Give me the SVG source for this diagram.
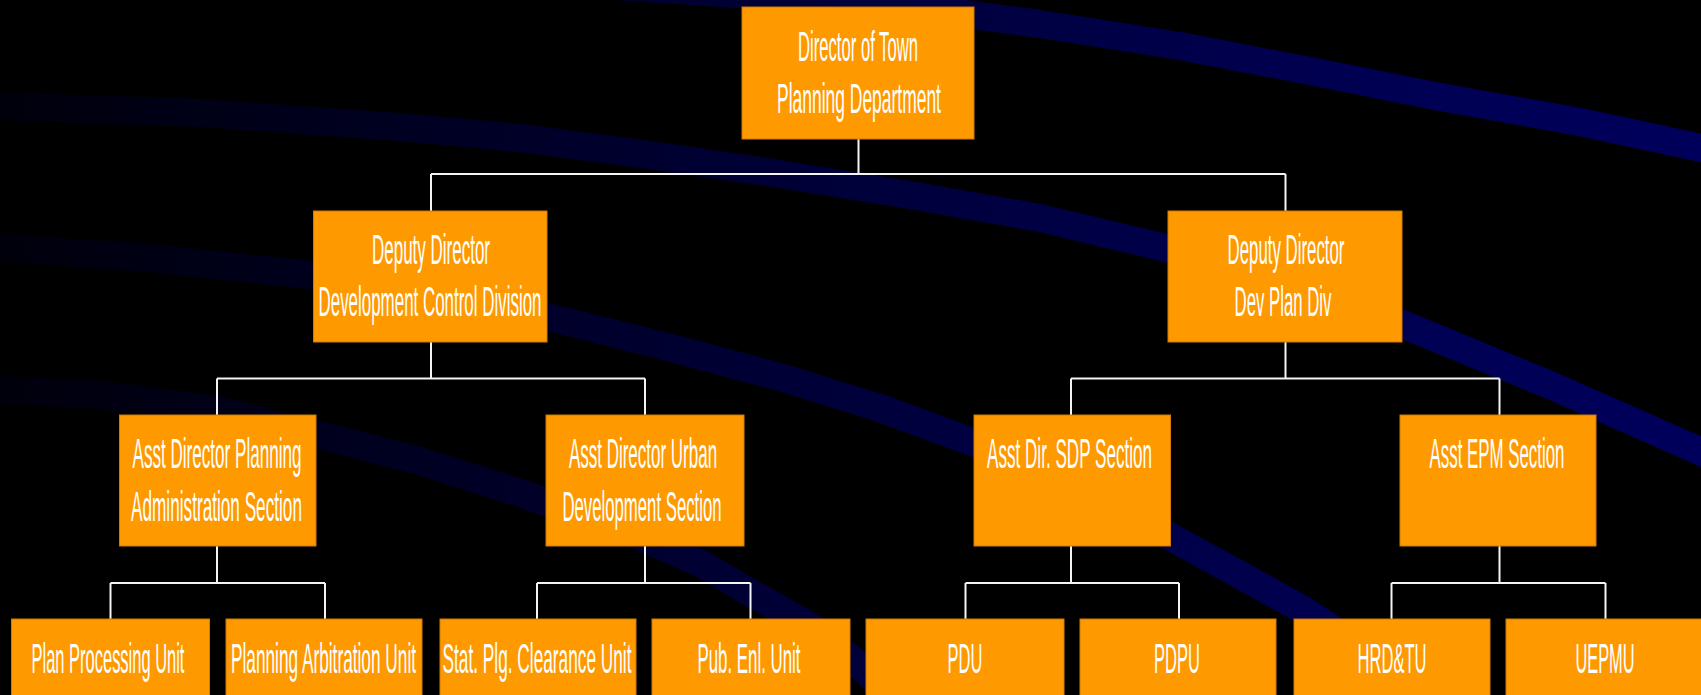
<svg xmlns="http://www.w3.org/2000/svg" width="1701" height="695" viewBox="0 0 1701 695">
<defs>
<linearGradient id="bandGrad" gradientUnits="userSpaceOnUse" x1="0" y1="0" x2="1701" y2="0">
<stop offset="0" stop-color="#00000c"/>
<stop offset="0.3" stop-color="#000028"/>
<stop offset="0.55" stop-color="#00003f"/>
<stop offset="0.8" stop-color="#000052"/>
<stop offset="1" stop-color="#00005c"/>
</linearGradient>
<style>
.band{fill:none;stroke:url(#bandGrad);stroke-width:28;stroke-linejoin:round;stroke-linecap:butt}
.box{fill:#FF9900;stroke:#D07A00;stroke-width:1}
.lbl{fill:#FFFFFF;font-family:"Liberation Sans",Arial,sans-serif;font-size:43px;text-anchor:middle}
.conn{fill:none;stroke:#F4F4F4;stroke-width:2}
</style>
</defs>
<rect x="0" y="0" width="1701" height="695" fill="#000000"/>
<g id="background">
<path class="band" d="M500,-22 L630,-13 L800,-2 L920,8 L1040,24 L1180,46 L1310,71 L1440,97 L1580,122 L1720,152"/>
<path class="band" d="M-10,106 L200,113 L400,127 L520,138 L650,155 L780,174 L910,195 L1040,218 L1200,256 L1300,287 L1402,324 L1550,385 L1720,460"/>
<path class="band" d="M-10,247 L150,258 L310,275 L430,294 L548,317 L660,345 L780,377 L880,408 L975,443 L1080,488 L1180,542 L1300,608 L1420,685 L1460,715"/>
<path class="band" d="M-10,389 L100,395 L217,410 L316,434 L420,461 L520,493 L620,528 L700,563 L753,594 L820,632 L870,675 L910,720"/>
</g>
<g id="connectors">
<path class="conn" d="M858.5,139 V174 M431,174 H1285.5 M431,174 V211 M1285.5,174 V211"/>
<path class="conn" d="M431,342 V378.5 M217,378.5 H645 M217,378.5 V415 M645,378.5 V415"/>
<path class="conn" d="M1285.5,342 V378.5 M1071,378.5 H1499.5 M1071,378.5 V415 M1499.5,378.5 V415"/>
<path class="conn" d="M217,546 V583 M110.5,583 H325 M110.5,583 V619 M325,583 V619"/>
<path class="conn" d="M645,546 V583 M537,583 H750.5 M537,583 V619 M750.5,583 V619"/>
<path class="conn" d="M1071,546 V583 M965.5,583 H1179 M965.5,583 V619 M1179,583 V619"/>
<path class="conn" d="M1499.5,546 V583 M1391.5,583 H1605.5 M1391.5,583 V619 M1605.5,583 V619"/>
</g>
<g id="director">
<rect class="box" x="742" y="7" width="232" height="132"/>
<text class="lbl" transform="translate(858,61) scale(0.392,1)" textLength="306" lengthAdjust="spacingAndGlyphs">Director of Town</text>
<text class="lbl" transform="translate(859,113) scale(0.392,1)" textLength="418" lengthAdjust="spacingAndGlyphs">Planning Department</text>
</g>
<g id="deputy-dcd">
<rect class="box" x="313.5" y="211" width="233.5" height="131"/>
<text class="lbl" transform="translate(431,264) scale(0.392,1)" textLength="301" lengthAdjust="spacingAndGlyphs">Deputy Director</text>
<text class="lbl" transform="translate(430,316) scale(0.392,1)" textLength="569" lengthAdjust="spacingAndGlyphs">Development Control Division</text>
</g>
<g id="deputy-dpd">
<rect class="box" x="1168" y="211" width="234" height="131"/>
<text class="lbl" transform="translate(1286,264) scale(0.392,1)" textLength="298" lengthAdjust="spacingAndGlyphs">Deputy Director</text>
<text class="lbl" transform="translate(1283,316) scale(0.392,1)" textLength="247" lengthAdjust="spacingAndGlyphs">Dev Plan Div</text>
</g>
<g id="asst-planning-admin">
<rect class="box" x="119.5" y="415" width="196.5" height="131"/>
<text class="lbl" transform="translate(217,468) scale(0.392,1)" textLength="431" lengthAdjust="spacingAndGlyphs">Asst Director Planning</text>
<text class="lbl" transform="translate(216.5,521) scale(0.392,1)" textLength="436" lengthAdjust="spacingAndGlyphs">Administration Section</text>
</g>
<g id="asst-urban-dev">
<rect class="box" x="546" y="415" width="198" height="131"/>
<text class="lbl" transform="translate(643,468) scale(0.392,1)" textLength="378" lengthAdjust="spacingAndGlyphs">Asst Director Urban</text>
<text class="lbl" transform="translate(642,521) scale(0.392,1)" textLength="406" lengthAdjust="spacingAndGlyphs">Development Section</text>
</g>
<g id="asst-sdp">
<rect class="box" x="974" y="415" width="196.5" height="131"/>
<text class="lbl" transform="translate(1069.5,468) scale(0.392,1)" textLength="421" lengthAdjust="spacingAndGlyphs">Asst Dir. SDP Section</text>
</g>
<g id="asst-epm">
<rect class="box" x="1400" y="415" width="196" height="131"/>
<text class="lbl" transform="translate(1497,468) scale(0.392,1)" textLength="344" lengthAdjust="spacingAndGlyphs">Asst EPM Section</text>
</g>
<g id="unit-plan-processing">
<rect class="box" x="11.5" y="619" width="198" height="90"/>
<text class="lbl" transform="translate(108,673) scale(0.392,1)" textLength="390" lengthAdjust="spacingAndGlyphs">Plan Processing Unit</text>
</g>
<g id="unit-planning-arbitration">
<rect class="box" x="226" y="619" width="196" height="90"/>
<text class="lbl" transform="translate(323.5,673) scale(0.392,1)" textLength="472" lengthAdjust="spacingAndGlyphs">Planning Arbitration Unit</text>
</g>
<g id="unit-stat-plg-clearance">
<rect class="box" x="440" y="619" width="196" height="90"/>
<text class="lbl" transform="translate(537,673) scale(0.392,1)" textLength="482" lengthAdjust="spacingAndGlyphs">Stat. Plg. Clearance Unit</text>
</g>
<g id="unit-pub-enl">
<rect class="box" x="652" y="619" width="198" height="90"/>
<text class="lbl" transform="translate(749,673) scale(0.392,1)" textLength="263" lengthAdjust="spacingAndGlyphs">Pub. Enl. Unit</text>
</g>
<g id="unit-pdu">
<rect class="box" x="866" y="619" width="198" height="90"/>
<text class="lbl" transform="translate(965,673) scale(0.392,1)" textLength="89" lengthAdjust="spacingAndGlyphs">PDU</text>
</g>
<g id="unit-pdpu">
<rect class="box" x="1080" y="619" width="196" height="90"/>
<text class="lbl" transform="translate(1177,673) scale(0.392,1)" textLength="117" lengthAdjust="spacingAndGlyphs">PDPU</text>
</g>
<g id="unit-hrdtu">
<rect class="box" x="1294" y="619" width="196" height="90"/>
<text class="lbl" transform="translate(1392,673) scale(0.392,1)" textLength="176" lengthAdjust="spacingAndGlyphs">HRD&amp;TU</text>
</g>
<g id="unit-uepmu">
<rect class="box" x="1506" y="619" width="200" height="90"/>
<text class="lbl" transform="translate(1605,673) scale(0.392,1)" textLength="151" lengthAdjust="spacingAndGlyphs">UEPMU</text>
</g>
</svg>
